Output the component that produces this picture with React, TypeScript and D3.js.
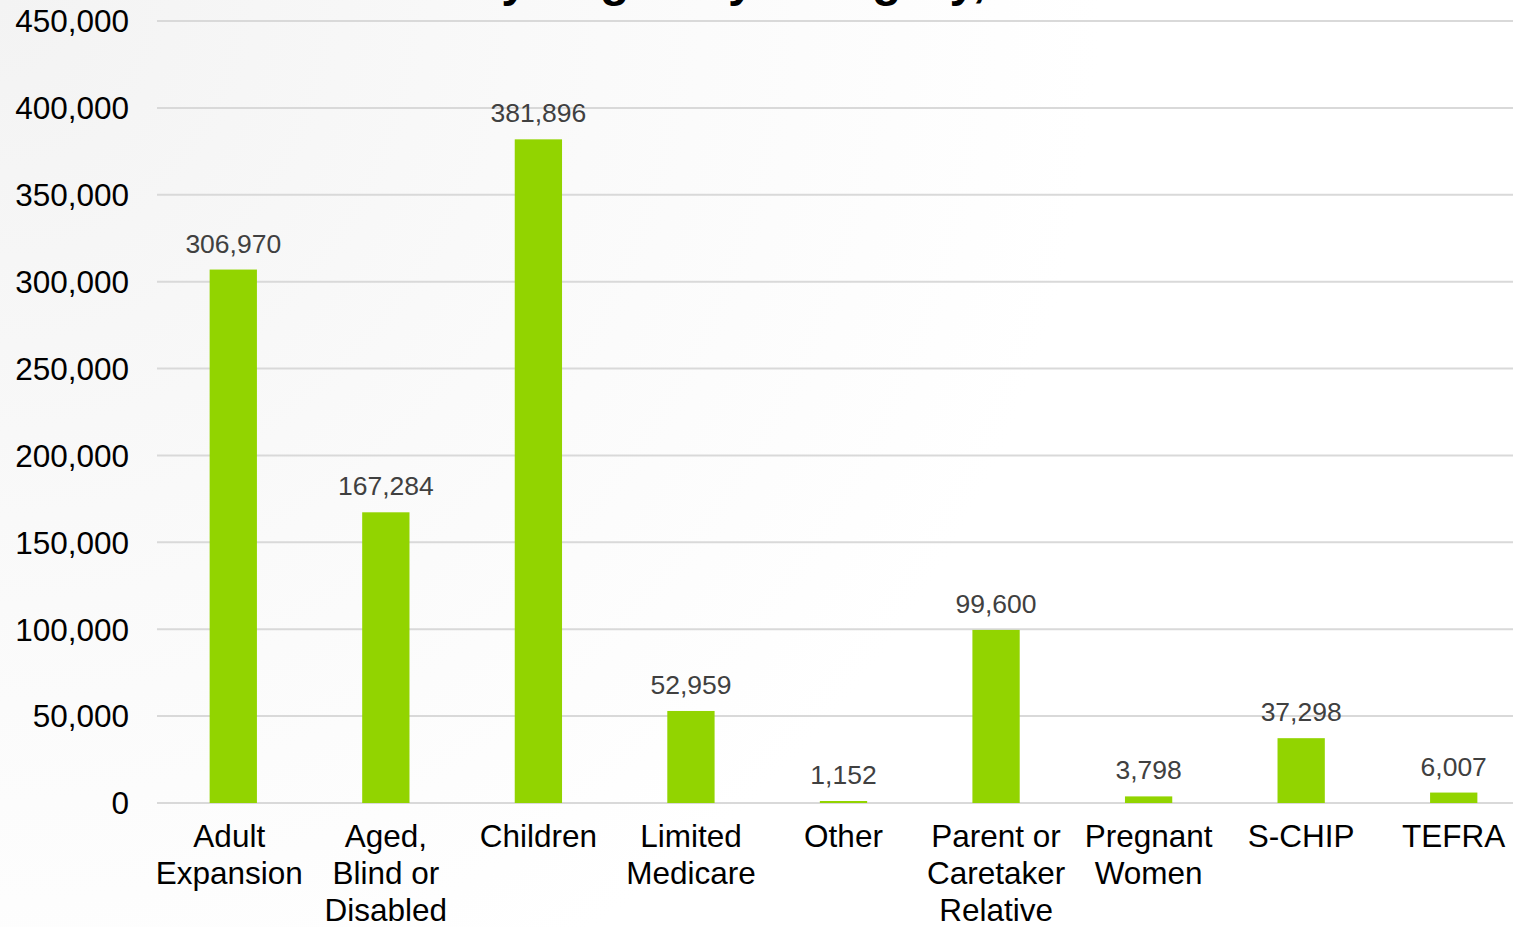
import React from "react";
import * as d3 from "d3";

const categories: string[] = [
  "Adult\nExpansion",
  "Aged,\nBlind or\nDisabled",
  "Children",
  "Limited\nMedicare",
  "Other",
  "Parent or\nCaretaker\nRelative",
  "Pregnant\nWomen",
  "S-CHIP",
  "TEFRA",
];
const values: number[] = [306970, 167284, 381896, 52959, 1152, 99600, 3798, 37298, 6007];
const yTicks: number[] = [0, 50000, 100000, 150000, 200000, 250000, 300000, 350000, 400000, 450000];
const titleText = "by Eligibility Category,";

const W = 1513;
const H = 927;
const FONT = "'Liberation Sans', Arial, Helvetica, sans-serif";

export default function App() {
  const y = d3.scaleLinear().domain([0, 450000]).range([803, 21]);
  const x = d3
    .scaleBand<string>()
    .domain(categories)
    .range([157, 1530])
    .paddingInner(0.69)
    .paddingOuter(0.345);
  const fmt = d3.format(",");

  return (
    <div style={{ position: "absolute", left: 0, top: 0, width: W, height: H }}>
      <svg width={W} height={H} style={{ display: "block" }}>
        <defs>
          <radialGradient
            id="bg"
            gradientUnits="userSpaceOnUse"
            cx={0}
            cy={0}
            r={1100}
          >
            <stop offset="0%" stopColor="#f3f3f3" />
            <stop offset="55%" stopColor="#fafafa" />
            <stop offset="100%" stopColor="#ffffff" />
          </radialGradient>
        </defs>
        <rect x={0} y={0} width={W} height={H} fill="#ffffff" />
        <rect x={0} y={0} width={W} height={H} fill="url(#bg)" />
        <text
          x={472}
          y={-4}
          fontFamily={FONT}
          fontWeight="bold"
          fontSize={48}
          fill="#000"
        >
          {titleText}
        </text>
        {yTicks.map((t) => (
          <g key={t}>
            <line
              x1={157}
              x2={W}
              y1={y(t)}
              y2={y(t)}
              stroke="#d9d9d9"
              strokeWidth={2}
            />
            <text
              x={129}
              y={y(t)}
              dy="0.36em"
              textAnchor="end"
              fontFamily={FONT}
              fontSize={31.5}
              fill="#000"
            >
              {fmt(t)}
            </text>
          </g>
        ))}
        {categories.map((c, i) => {
          const bx = x(c)!;
          const bw = x.bandwidth();
          const top = y(values[i]);
          const cx = bx + bw / 2;
          const lines = c.split("\n");
          return (
            <g key={c}>
              <rect x={bx} y={top} width={bw} height={y(0) - top} fill="#92d400" />
              <text
                x={cx}
                y={top - 17}
                textAnchor="middle"
                fontFamily={FONT}
                fontSize={26.5}
                fill="#404040"
              >
                {fmt(values[i])}
              </text>
              <text
                x={cx}
                y={847}
                textAnchor="middle"
                fontFamily={FONT}
                fontSize={31.5}
                fill="#000"
              >
                {lines.map((l, j) => (
                  <tspan key={j} x={i === 0 ? cx - 4 : cx} dy={j === 0 ? 0 : 37}>
                    {l}
                  </tspan>
                ))}
              </text>
            </g>
          );
        })}
      </svg>
    </div>
  );
}
